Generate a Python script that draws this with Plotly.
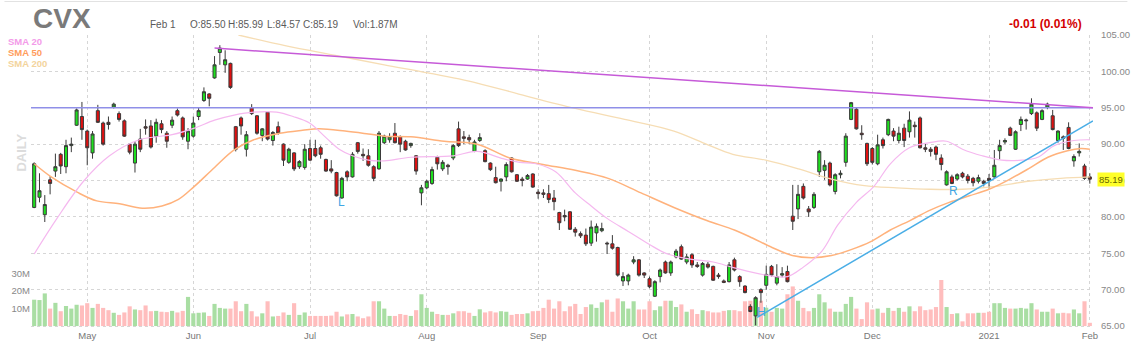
import plotly.graph_objects as go
import pandas as pd
import numpy as np

# ---------------- data ----------------
start_date = "2020-04-17"
end_date = "2021-02-01"
holidays = ["2020-05-25", "2020-07-03", "2020-09-07", "2020-11-26",
            "2020-12-25", "2021-01-01", "2021-01-18"]

opens = [81.3,82.7,80.3,85.1,86.3,88.6,86.9,89.8,92.6,93.8,
         91.8,88.8,94.6,92.9,93.0,95.1,94.2,93.2,90.0,87.4,
         90.7,92.4,92.5,91.1,92.8,91.5,92.6,94.6,93.6,90.4,
         91.1,93.8,96.0,96.9,99.1,102.6,100.9,101.1,92.4,93.6,
         89.3,95.0,93.9,91.2,94.4,90.5,92.4,90.0,87.5,88.8,
         86.9,86.8,89.4,89.4,89.5,87.9,86.6,86.1,82.6,86.2,
         85.5,90.2,88.6,88.4,86.9,86.6,90.2,90.6,91.5,91.0,
         90.4,89.8,88.4,83.3,84.0,84.6,88.2,86.6,87.1,88.1,
         92.1,91.0,90.9,89.0,90.5,89.1,87.4,85.4,84.9,85.5,
         88.1,85.8,85.2,85.2,85.9,83.4,83.3,83.2,82.6,80.6,
         80.2,80.7,78.3,77.7,77.5,76.4,77.8,78.1,76.4,76.3,
         75.8,71.2,71.2,73.8,74.1,72.3,71.5,69.1,71.8,73.8,
         72.3,74.5,75.9,73.8,74.8,73.4,72.0,73.5,73.2,72.0,
         71.2,71.1,74.1,71.8,70.5,67.7,66.4,70.0,70.6,73.2,
         70.9,72.0,72.5,80.1,81.1,84.2,81.1,81.3,86.2,86.4,
         87.4,83.5,85.8,87.5,93.4,94.8,91.5,90.1,89.4,87.3,
         90.6,91.3,91.8,90.5,92.2,91.7,92.6,93.6,89.5,89.3,
         89.6,88.1,84.4,85.5,85.2,86.0,85.6,85.3,84.9,84.9,
         85.3,85.5,89.1,90.3,92.2,89.3,92.7,93.2,94.2,94.3,
         93.4,95.1,93.9,90.5,91.0,92.3,87.7,88.8,87.0,85.50]

highs = [87.5,86.0,83.0,85.6,88.7,88.8,90.6,90.9,94.9,95.8,
         92.0,91.8,95.4,93.1,93.8,95.7,94.5,93.4,90.1,90.4,
         92.1,93.4,93.3,93.5,93.3,91.8,93.8,94.9,93.8,92.2,
         93.8,95.1,97.8,97.0,102.1,103.6,102.9,101.2,92.5,93.8,
         91.8,95.5,94.0,92.2,94.5,91.8,93.1,90.1,89.5,88.9,
         87.8,90.0,90.6,90.6,89.8,88.0,87.8,86.2,85.5,86.4,
         88.9,90.3,89.4,89.3,87.1,91.8,91.3,91.5,92.9,91.2,
         90.6,90.2,88.5,84.4,85.1,86.9,88.4,87.8,87.3,90.0,
         93.1,91.8,91.3,90.6,91.5,89.3,87.5,86.9,85.3,87.5,
         88.2,85.9,85.5,85.9,86.0,83.8,83.8,84.4,83.7,80.7,
         81.0,80.8,78.6,78.0,78.4,79.5,79.1,79.2,76.6,77.5,
         75.9,72.4,72.2,74.6,74.2,72.4,71.8,71.3,72.9,74.0,
         74.0,75.6,76.2,74.9,75.0,73.8,73.8,73.8,73.3,72.3,
         71.4,73.8,74.4,72.0,70.6,68.0,69.1,70.2,73.3,73.4,
         73.5,73.1,73.3,84.4,84.4,84.6,81.5,83.4,89.2,87.8,
         87.6,86.0,86.4,91.5,95.8,95.0,92.6,90.2,89.6,91.3,
         90.9,93.5,92.2,92.4,92.8,94.5,93.1,93.8,90.1,89.6,
         89.8,88.6,86.4,85.8,86.0,86.2,85.9,85.5,85.8,85.1,
         85.9,89.2,90.6,90.8,92.4,91.9,93.8,93.5,96.3,94.5,
         94.8,95.7,94.7,91.9,91.2,93.0,88.6,90.1,87.3,85.99]

lows = [81.2,82.0,79.3,83.1,85.5,85.9,86.0,88.9,92.5,90.6,
        87.1,88.0,92.9,89.8,92.0,94.9,93.1,91.0,88.6,86.1,
        88.9,91.3,89.4,90.2,91.5,89.5,92.2,93.8,90.6,89.3,
        90.9,93.3,95.8,95.2,99.0,100.9,99.8,97.6,89.0,91.3,
        88.3,94.0,91.3,90.4,90.5,89.8,91.3,87.0,87.3,86.3,
        86.6,86.5,87.7,88.2,88.0,86.2,86.0,82.8,82.5,84.9,
        85.4,88.7,87.7,86.9,84.9,86.5,90.0,90.2,90.1,88.9,
        89.1,89.5,85.8,81.6,83.8,84.4,86.5,86.3,85.8,87.8,
        89.6,90.0,90.0,88.9,90.3,87.5,86.3,84.6,83.5,84.9,
        86.1,84.8,84.2,85.1,84.0,82.5,82.6,81.9,80.9,78.2,
        79.4,78.2,77.3,77.1,76.0,76.0,76.6,77.9,74.9,75.5,
        71.8,70.5,70.6,73.5,71.8,71.6,70.2,69.0,71.0,72.2,
        71.9,74.3,74.1,73.5,73.0,73.0,71.8,72.9,71.2,71.5,
        70.9,71.0,72.5,70.4,69.5,66.9,65.1,68.2,70.0,71.8,
        70.6,71.7,71.0,78.2,79.7,82.4,80.0,81.1,85.5,85.1,
        84.2,83.1,85.3,86.9,93.3,92.0,90.6,87.0,87.2,87.1,
        89.4,91.1,90.4,90.1,89.6,90.9,90.9,89.4,88.9,88.3,
        87.8,86.4,84.3,84.5,85.0,85.3,84.6,84.2,84.6,84.2,
        83.9,85.4,87.9,90.0,91.1,89.2,91.8,92.0,94.0,91.8,
        93.3,94.8,91.9,90.2,89.2,89.3,86.9,88.3,85.1,84.57]

closes = [87.3,83.6,81.7,84.6,86.9,87.0,89.8,90.0,94.7,92.0,
          89.5,91.4,93.0,90.0,92.7,95.5,93.4,91.1,88.9,90.0,
          89.3,92.2,89.6,93.0,92.0,90.4,93.3,94.0,91.0,91.8,
          92.9,94.6,97.2,96.3,100.9,103.2,101.6,97.8,89.3,92.5,
          91.3,94.2,91.5,92.1,90.7,91.6,91.5,87.8,89.3,86.6,
          87.6,89.3,87.8,88.4,88.6,86.3,86.3,82.9,85.3,85.5,
          88.6,89.0,88.4,87.1,85.3,91.5,91.1,91.0,90.2,90.0,
          89.2,90.1,86.3,84.0,84.9,86.5,87.3,87.5,86.9,89.8,
          89.8,90.8,90.6,90.3,90.9,87.6,86.5,84.7,85.2,87.2,
          86.2,84.9,85.0,85.7,84.1,83.2,83.1,82.4,82.1,79.2,
          80.0,78.3,77.9,77.4,76.3,78.6,78.7,78.4,76.3,75.7,
          72.0,71.8,72.0,74.1,72.0,72.0,70.4,71.1,72.7,72.3,
          73.8,75.3,74.2,74.5,73.4,73.2,73.6,73.1,71.3,71.8,
          71.0,73.4,72.7,71.1,69.6,67.0,68.9,69.6,72.1,72.0,
          71.8,72.2,71.1,79.4,83.1,82.6,80.7,83.1,89.0,87.1,
          84.4,85.8,86.0,91.1,95.7,92.1,91.3,87.3,87.5,89.9,
          89.8,93.4,91.1,91.5,90.5,93.3,92.4,89.5,89.3,89.0,
          88.6,87.2,86.2,84.6,85.8,85.5,85.0,84.7,85.4,84.6,
          85.0,87.1,89.8,90.5,91.2,91.7,93.4,93.3,95.5,92.2,
          94.6,95.5,92.0,91.8,90.8,89.4,88.3,89.0,85.3,85.19]

volumes_m = [15.1,14.9,18.7,10.0,13.3,8.5,11.5,10.0,12.2,11.8,
             13.1,10.4,12.7,10.4,9.1,7.6,6.4,7.8,11.3,9.5,
             9.1,11.8,8.5,8.7,8.2,8.0,8.7,7.8,8.7,16.7,
             7.3,7.6,7.8,5.8,12.7,10.4,10.0,10.0,14.2,8.5,
             12.7,8.5,5.5,7.3,14.2,5.5,5.8,7.8,6.4,13.1,
             6.4,7.8,5.8,5.8,5.8,5.8,6.0,8.2,5.5,6.7,
             6.9,5.5,4.5,5.5,14.2,14.2,10.0,5.8,5.8,6.9,
             6.4,5.8,9.1,18.2,10.4,8.2,6.9,6.4,6.4,7.3,
             8.5,8.5,7.6,5.8,9.6,7.8,8.5,7.8,8.5,8.2,
             6.4,6.9,6.9,7.3,8.5,8.7,10.4,15.1,10.0,14.2,
             8.5,11.3,12.7,6.9,10.9,12.4,10.4,13.6,15.1,8.2,
             15.8,14.2,10.0,14.2,9.5,9.5,14.2,9.1,11.3,14.5,
             14.5,10.9,12.4,8.2,9.6,6.9,9.1,8.5,7.8,7.8,
             8.7,9.1,9.1,8.5,14.2,14.5,16.0,14.5,10.5,8.2,
             10.4,10.0,18.2,22.7,14.5,10.4,8.5,10.4,18.2,13.6,
             10.0,8.2,8.2,12.7,16.7,10.0,4.0,13.6,9.5,10.0,
             7.6,10.4,8.7,10.4,8.2,11.3,8.5,11.3,9.1,9.5,
             10.9,26.4,10.9,6.9,7.3,2.7,7.3,7.3,7.6,7.6,
             8.2,13.1,13.1,10.4,10.0,10.0,10.4,10.0,13.1,9.5,
             8.2,8.2,10.0,7.3,7.6,7.3,9.5,7.3,14.2,1.87]

# moving averages (trading-day index, price)
sma20_idx = [0, 4.3, 9.3, 14.2, 19.8, 26, 30.2, 34, 37.7, 41.4, 45.7, 48.8, 51.9, 55, 57.5, 60, 63,
             66, 71, 79, 83.5, 88.4, 91.5, 94.6, 98.3, 102, 105, 108, 112, 116, 119.4, 123.7, 128,
             132, 138, 142, 145, 148.5, 151.5, 155, 158.3, 161.4, 165, 168.8, 172, 175, 178.7,
             182.4, 186.2, 189.2, 192.3, 196, 199]
sma20_val = [74.9, 79.8, 84.9, 88.4, 90.6, 91.3, 92.2, 93.3, 94.0, 94.4, 94.4, 93.8, 92.9, 90.9, 89.3, 88.4, 87.8,
             87.7, 88.2, 88.4, 89.0, 88.0, 87.5, 87.3, 86.2, 83.3, 81.5, 79.8, 78.0, 76.2, 74.9, 74.2, 73.8,
             73.0, 72.0, 71.8, 73.1, 75.3, 78.9, 82.0, 84.2, 87.3, 89.5, 90.2, 90.4, 89.3, 88.4,
             87.8, 87.8, 88.2, 89.8, 90.5, 90.6]

sma50_idx = [0, 3.2, 8.1, 11.8, 16.1, 20.4, 24.1, 27.2, 30.2, 34, 37.7, 41.4, 46.3, 50.6, 53.7, 58.6, 63,
             66, 71, 77.3, 83.5, 89.7, 95.9, 102, 108.2, 114.4, 120.6, 126.8, 132, 135.4, 139.1, 142.9,
             146.6, 150.3, 154, 157.7, 161.4, 165.1, 168.8, 172.5, 176.3, 180, 183.7, 187.4, 191.1,
             194.8, 197.3, 199]
sma50_val = [87.3, 85.5, 83.4, 82.2, 81.8, 81.2, 81.5, 82.4, 84.2, 86.8, 89.2, 90.6, 91.5, 91.9, 92.1, 91.8, 91.4,
             91.1, 91.0, 90.4, 90.0, 88.1, 87.2, 86.4, 85.3, 83.3, 81.3, 79.5, 78.2, 77.1, 75.8, 74.7,
             74.4, 74.7, 75.5, 76.6, 78.2, 79.5, 80.9, 82.0, 82.9, 83.8, 85.1, 86.6, 88.2,
             89.1, 89.4, 89.3]

sma200_idx = [38.5, 47.5, 56.8, 66, 74.2, 83.5, 92.8, 102, 111.3, 120.6, 127, 131.7, 137.9, 144.1,
              150.3, 156.5, 162.6, 168.8, 175, 181.2, 187.4, 193.5, 199]
sma200_val = [105.0, 103.5, 102.2, 100.9, 99.8, 98.4, 96.6, 94.9, 93.4, 91.8, 89.9, 88.6, 87.8, 86.6,
              85.2, 84.3, 84.0, 83.8, 83.8, 84.2, 84.9, 85.3, 85.5]

month_labels = ["May", "Jun", "Jul", "Aug", "Sep", "Oct", "Nov", "Dec", "2021", "Feb"]
price_ticks = [65, 70, 75, 80, 85, 90, 95, 100, 105]
volume_ticks_m = [10, 20, 30]

resistance_level = 95.0
down_trend_idx = [34, 199.6]
down_trend_val = [103.2, 95.0]
up_trend_idx = [136.3, 199.6]
up_trend_val = [66.2, 93.2]
pattern_labels = ["L", "R", "H"]
pattern_idx = [58, 173.3, 137.2]
pattern_val = [82.0, 83.6, 67.0]

last_price = closes[-1]

# ---------------- build ----------------
dates = pd.bdate_range(start_date, end_date)
dates = dates[~dates.isin(pd.to_datetime(holidays))]
n = len(closes)
assert len(dates) == n, len(dates)
idx = np.arange(n)
tick_idx = [i for i in range(1, n) if dates[i].month != dates[i - 1].month]

FONT = "Liberation Sans, Arial, sans-serif"
W, H = 1142, 353
ML, MR, MT, MB = 27, 35, 35, 16
PW, PH = W - ML - MR, H - MT - MB


def pxx(p):
    return (p - ML) / PW


def pxy(p):
    return (H - MB - p) / PH


up = [c >= o for o, c in zip(opens, closes)]
vol_colors = ["#a9dea3" if u else "#ffbdbd" for u in up]

fig = go.Figure()

fig.add_trace(go.Bar(x=idx, y=[v * 1e6 for v in volumes_m], marker=dict(color=vol_colors, line=dict(width=0)),
                     yaxis="y", hoverinfo="skip"))

fig.add_trace(go.Scatter(x=sma200_idx, y=sma200_val, mode="lines", line=dict(color="#f6ddb4", width=1.3, shape="spline"),
                         yaxis="y2", hoverinfo="skip"))
fig.add_trace(go.Scatter(x=sma50_idx, y=sma50_val, mode="lines", line=dict(color="#ffb27c", width=1.5, shape="spline"),
                         yaxis="y2", hoverinfo="skip"))
fig.add_trace(go.Scatter(x=sma20_idx, y=sma20_val, mode="lines", line=dict(color="#f5b8ef", width=1.2, shape="spline"),
                         yaxis="y2", hoverinfo="skip"))

fig.add_trace(go.Candlestick(
    x=idx, open=opens, high=highs, low=lows, close=closes, yaxis="y2",
    increasing=dict(line=dict(color="#3a3a3a", width=1), fillcolor="#1ee01e"),
    decreasing=dict(line=dict(color="#3a3a3a", width=1), fillcolor="#e01010"),
    whiskerwidth=0, hoverinfo="skip"))

shapes = [
    dict(type="line", xref="paper", yref="y2", x0=0, x1=1, y0=resistance_level, y1=resistance_level,
         line=dict(color="#8f8fe8", width=1.5)),
    dict(type="line", xref="x", yref="y2", x0=down_trend_idx[0], x1=down_trend_idx[1],
         y0=down_trend_val[0], y1=down_trend_val[1], line=dict(color="#c65ad8", width=1.5)),
    dict(type="line", xref="x", yref="y2", x0=up_trend_idx[0], x1=up_trend_idx[1],
         y0=up_trend_val[0], y1=up_trend_val[1], line=dict(color="#4aaee6", width=1.5)),
    dict(type="line", xref="paper", yref="paper", x0=pxx(0), x1=pxx(W), y0=pxy(0.5), y1=pxy(0.5),
         line=dict(color="#e2e2e2", width=1)),
]

ann = []
for t, xi, yv in zip(pattern_labels, pattern_idx, pattern_val):
    ann.append(dict(text=t, x=xi, y=yv, xref="x", yref="y2", showarrow=False,
                    font=dict(family=FONT, size=12, color="#3fa6e4")))

ann += [
    dict(text="CVX", x=pxx(27), y=pxy(18), xanchor="left", yanchor="middle",
         font=dict(family=FONT, size=28, color="#7a7a7a", weight="bold")),
    dict(text="Feb 1", x=pxx(146), y=pxy(24), xanchor="left", yanchor="middle",
         font=dict(family=FONT, size=10, color="#5a5a5a")),
    dict(text="O:85.50", x=pxx(187), y=pxy(24), xanchor="left", yanchor="middle",
         font=dict(family=FONT, size=10, color="#5a5a5a")),
    dict(text="H:85.99", x=pxx(225), y=pxy(24), xanchor="left", yanchor="middle",
         font=dict(family=FONT, size=10, color="#5a5a5a")),
    dict(text="L:84.57", x=pxx(265), y=pxy(24), xanchor="left", yanchor="middle",
         font=dict(family=FONT, size=10, color="#5a5a5a")),
    dict(text="C:85.19", x=pxx(302), y=pxy(24), xanchor="left", yanchor="middle",
         font=dict(family=FONT, size=10, color="#5a5a5a")),
    dict(text="Vol:1.87M", x=pxx(352), y=pxy(24), xanchor="left", yanchor="middle",
         font=dict(family=FONT, size=10, color="#5a5a5a")),
    dict(text="-0.01 (0.01%)", x=pxx(1098), y=pxy(24), xanchor="right", yanchor="middle",
         font=dict(family=FONT, size=12, color="#d40000", weight="bold")),
    dict(text="SMA 20", x=pxx(2), y=pxy(42), xanchor="left", yanchor="middle",
         font=dict(family=FONT, size=9.5, color="#f39be9", weight="bold")),
    dict(text="SMA 50", x=pxx(2), y=pxy(53), xanchor="left", yanchor="middle",
         font=dict(family=FONT, size=9.5, color="#ff9d5c", weight="bold")),
    dict(text="SMA 200", x=pxx(2), y=pxy(64), xanchor="left", yanchor="middle",
         font=dict(family=FONT, size=9.5, color="#f3d49c", weight="bold")),
    dict(text="DAILY", x=pxx(17), y=pxy(156), xanchor="center", yanchor="middle", textangle=-90,
         font=dict(family=FONT, size=13, color="#dcdcdc", weight="bold")),
    dict(text=f"{last_price:.2f}", x=pxx(1111), y=last_price, xref="paper", yref="y2",
         xanchor="left", yanchor="middle", bgcolor="#ffff2a", borderpad=1,
         font=dict(family=FONT, size=9.5, color="#666600")),
]
for a in ann:
    a.setdefault("xref", "paper")
    a.setdefault("yref", "paper")
    a.setdefault("showarrow", False)

grid = dict(showgrid=True, gridcolor="#d6d6d6", gridwidth=1, griddash="3px,3px")

fig.update_layout(
    width=W, height=H, margin=dict(l=ML, r=MR, t=MT, b=MB),
    paper_bgcolor="white", plot_bgcolor="white", showlegend=False,
    font=dict(family=FONT),
    xaxis=dict(range=[-0.6, n - 0.4], tickmode="array", tickvals=tick_idx, ticktext=month_labels,
               tickfont=dict(size=9.5, color="#777"), ticks="", zeroline=False, showline=False,
               rangeslider=dict(visible=False), fixedrange=True, **grid),
    yaxis=dict(range=[-1.11e6, 166.7e6], side="left", tickmode="array",
               tickvals=[v * 1e6 for v in volume_ticks_m], ticktext=[f"{v}M" for v in volume_ticks_m],
               tickfont=dict(size=9.5, color="#888"), ticks="", showgrid=False, zeroline=False,
               showline=False, fixedrange=True),
    yaxis2=dict(range=[64.733, 105], overlaying="y", side="right", tickmode="array",
                tickvals=price_ticks, tickformat=".2f", tickfont=dict(size=9.5, color="#888"),
                ticks="outside", ticklen=5, tickcolor="rgba(0,0,0,0)", zeroline=False, showline=False,
                fixedrange=True, **grid),
    bargap=0.22,
    boxgap=0.18,
    shapes=shapes,
    annotations=ann,
)

fig.write_html("out.html")
